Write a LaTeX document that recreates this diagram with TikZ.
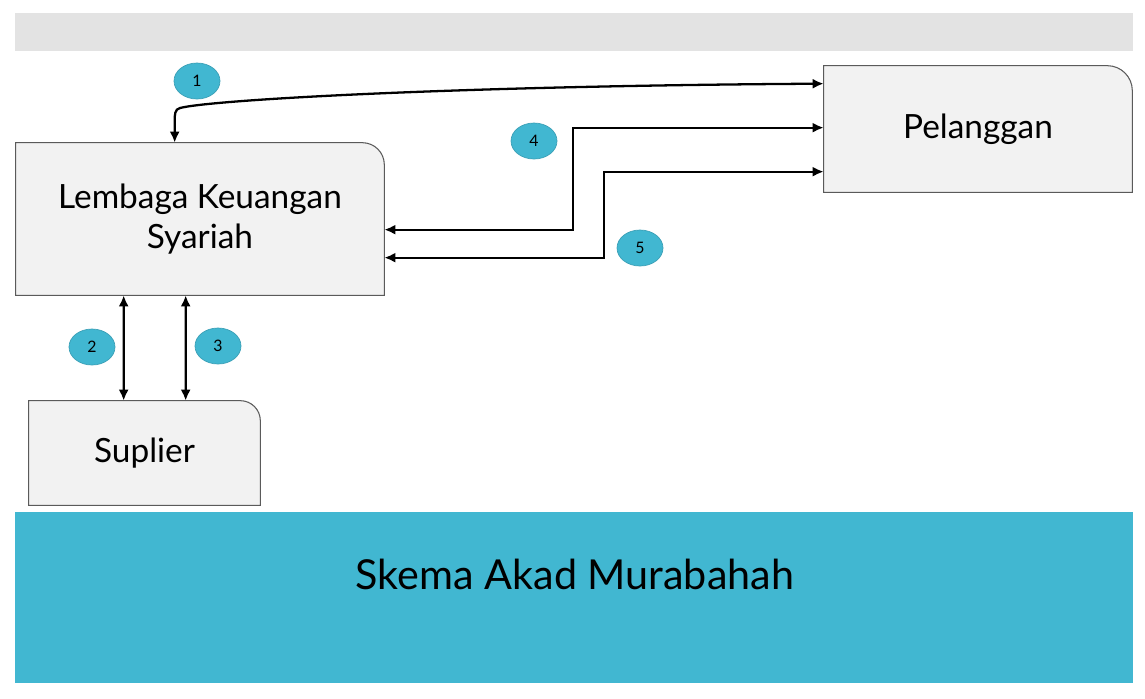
\documentclass[tikz,border=0pt]{standalone}
\usepackage{fontspec}
\setmainfont{Lato}
\usepackage{tikz}
\usetikzlibrary{arrows.meta, positioning, shapes.geometric, calc, backgrounds}

\definecolor{teal}{HTML}{41B7D1}
\definecolor{tealline}{HTML}{3A9FB6}
\definecolor{boxfill}{HTML}{F2F2F2}
\definecolor{boxline}{HTML}{5A5A5A}
\definecolor{barfill}{HTML}{E3E3E3}

\begin{document}
\begin{tikzpicture}[
    x=0.02cm, y=-0.02cm,
    every node/.style={align=center},
    box/.style={
        inner sep=0pt,
        font=\fontsize{19}{23}\selectfont
    },
    boxshape/.style={
        fill=boxfill,
        draw=boxline,
        line width=0.6pt
    },
    badge/.style={
        ellipse,
        fill=teal,
        draw=tealline,
        line width=0.4pt,
        minimum width=0.92cm,
        minimum height=0.72cm,
        inner sep=0pt,
        font=\fontsize{9}{10}\selectfont
    },
    arrow/.style={
        {Latex[length=2.2mm,width=2mm]}-{Latex[length=2.2mm,width=2mm]},
        line width=1.3pt
    }
]

\useasboundingbox (0,0) rectangle (1145,698);

% bands
\fill[barfill] (15,13) rectangle (1133,51);
\fill[teal] (15,512) rectangle (1133,683);
\node[font=\fontsize{23.5}{28}\selectfont] (title) at (575,574) {Skema Akad Murabahah};

% parties
\node[box, minimum width=7.36cm, minimum height=3.04cm] (lembaga) at (200,219)
{Lembaga Keuangan\\Syariah};
\node[box, minimum width=6.16cm, minimum height=2.52cm] (pelanggan) at (978,129)
{Pelanggan};
\node[box, minimum width=4.62cm, minimum height=2.08cm] (suplier) at (144.5,453)
{Suplier};

\begin{scope}[on background layer]
\draw[boxshape] (lembaga.south west) -- (lembaga.north west)
    -- ($(lembaga.north east)-(22,0)$) arc[start angle=90, end angle=0, radius=0.44cm]
    -- (lembaga.south east) -- cycle;
\draw[boxshape] (pelanggan.south west) -- (pelanggan.north west)
    -- ($(pelanggan.north east)-(25,0)$) arc[start angle=90, end angle=0, radius=0.5cm]
    -- (pelanggan.south east) -- cycle;
\draw[boxshape] (suplier.south west) -- (suplier.north west)
    -- ($(suplier.north east)-(20,0)$) arc[start angle=90, end angle=0, radius=0.4cm]
    -- (suplier.south east) -- cycle;
\end{scope}

% steps
\node[badge] (n1) at (197,81) {1};
\node[badge] (n2) at (92,347) {2};
\node[badge] (n3) at (218,346) {3};
\node[badge] (n4) at (534,141) {4};
\node[badge] (n5) at (640,248) {5};

% connectors
\coordinate (p1) at ($(pelanggan.north west)+(0,18)$);
\coordinate (l1) at ($(lembaga.north west)+(159,0)$);
\coordinate (p4) at ($(pelanggan.north west)+(0,62)$);
\coordinate (l4) at ($(lembaga.north east)+(0,87)$);
\coordinate (p5) at ($(pelanggan.north west)+(0,106)$);
\coordinate (l5) at ($(lembaga.north east)+(0,115)$);

\draw[arrow] (p1) .. controls (450,86) and (210,100) .. (180,108)
    to[out=190, in=90] ($(l1)+(0,-22)$) -- (l1);
\draw[arrow] (l4) -- ++(189,0) |- (p4);
\draw[arrow] (l5) -- ++(220,0) |- (p5);
\draw[arrow] ($(lembaga.south west)+(108,0)$) -- ($(suplier.north west)+(95,0)$);
\draw[arrow] ($(lembaga.south west)+(170,0)$) -- ($(suplier.north west)+(157,0)$);

\end{tikzpicture}
\end{document}
